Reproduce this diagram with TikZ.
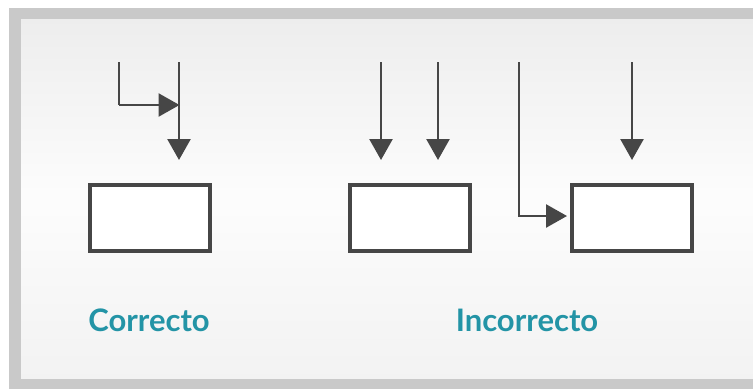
\documentclass[tikz,border=0pt]{standalone}
\usepackage{fontspec}
\setmainfont{Lato}
\usetikzlibrary{arrows.meta}
\definecolor{linegray}{HTML}{464646}
\definecolor{framegray}{HTML}{C9C9C9}
\definecolor{teal}{HTML}{2394A6}
\tikzset{
  flowbox/.style={draw=linegray, line width=3.2pt, fill=white, minimum width=120pt, minimum height=66pt, inner sep=0pt, outer sep=0pt},
  flowarrow/.style={draw=linegray, line width=2.6pt, -{Triangle[width=23pt,length=21pt]}},
  flowline/.style={draw=linegray, line width=2.6pt},
  caption/.style={text=teal, font=\fontsize{31}{36}\selectfont\bfseries, anchor=base, inner sep=0pt}
}
\begin{document}
\begin{tikzpicture}[x=1pt,y=-1pt]
\useasboundingbox (0,0) rectangle (753,389);
\fill[white] (0,0) rectangle (753,389);
\fill[framegray] (9,8) rectangle (753,389);
\shade[top color=gray!14, bottom color=gray!10, middle color=white!98!gray] (21,19) rectangle (753,378);
% Correct
\node[flowbox] (bc) at (150,218) {};
\coordinate (ct) at (179,62);
\coordinate (ctip) at (179,160);
\coordinate (cl) at (119,62);
\coordinate (cc) at (119,105);
\coordinate (cj) at (179,105);
\draw[flowarrow] (ct) -- (ctip);
\draw[flowline] (cl) -- (cc);
\draw[flowarrow, shorten >=-0.5pt] (cc) -- (cj);
% Incorrect 1
\node[flowbox] (bi) at (410,218) {};
\coordinate (a1) at (381,62);
\coordinate (a1t) at (381,160);
\coordinate (a2) at (438,62);
\coordinate (a2t) at (438,160);
\draw[flowarrow] (a1) -- (a1t);
\draw[flowarrow] (a2) -- (a2t);
% Incorrect 2
\node[flowbox] (bj) at (632,218) {};
\coordinate (a3) at (632,62);
\coordinate (a3t) at (632,160);
\draw[flowarrow] (a3) -- (a3t);
\coordinate (lt) at (519,62);
\coordinate (lc) at (519,216);
\draw[flowarrow] (lt) |- ([xshift=-5pt]bj.west |- lc);
% Captions
\node[caption] (t1) at (149,331) {Correcto};
\node[caption] (t2) at (527,331) {Incorrecto};
\end{tikzpicture}
\end{document}
